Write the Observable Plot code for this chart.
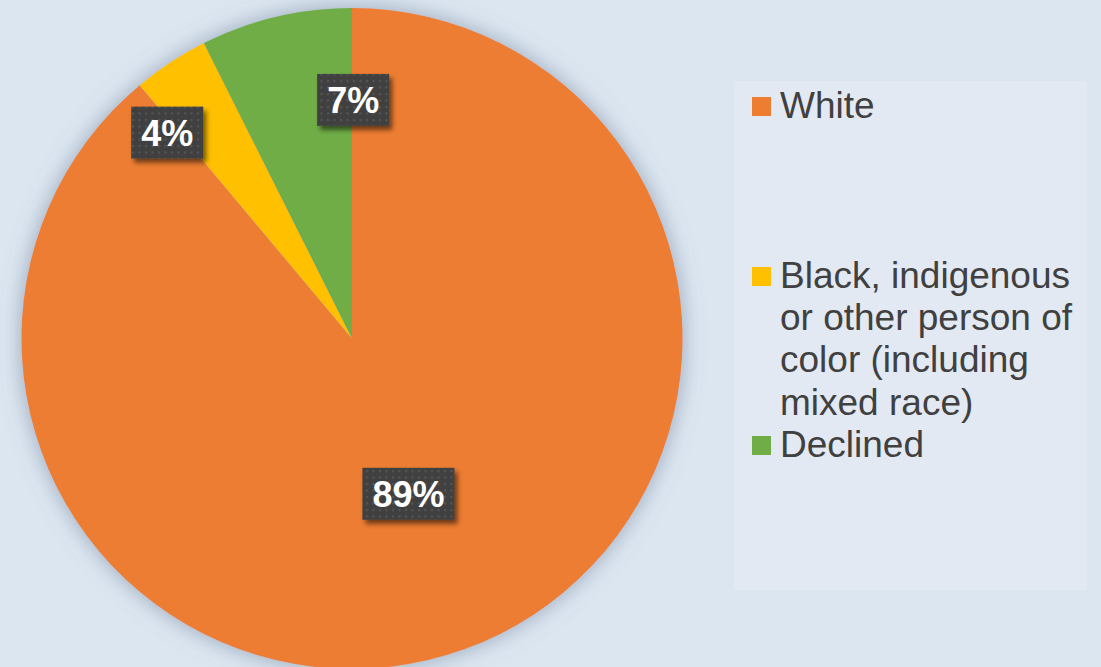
<!DOCTYPE html>
<html>
<head>
<meta charset="utf-8">
<script src="https://cdn.jsdelivr.net/npm/d3@7"></script>
<script src="https://cdn.jsdelivr.net/npm/@observablehq/plot@0.6"></script>
<style>
  html, body { margin: 0; padding: 0; background: #dce6f1; }
  #wrap { position: relative; width: 1101px; height: 667px; overflow: hidden; background: #dce6f1; font-family: "Liberation Sans", Arial, sans-serif; }
  #chart { position: absolute; left: 0; top: 0; }
  #legend { position: absolute; left: 734px; top: 81px; width: 353px; height: 509px; background: #e3e9f2; }
  .item { position: absolute; left: 18px; font-size: 37px; line-height: 42.4px; color: #404040; }
  .sw { position: absolute; left: 0; width: 19px; height: 19px; }
  .txt { position: absolute; left: 28px; white-space: nowrap; }
</style>
</head>
<body>
<div id="wrap">
  <div id="chart"></div>
  <div id="legend"></div>
</div>
<script>
// ---- data ----
const categories = ["White", "Black, indigenous or other person of color (including mixed race)", "Declined"];
const values = [88.9, 3.7, 7.4];
const labels = ["89%", "4%", "7%"];
const colors = ["#ED7D31", "#FFC000", "#70AD47"];
const legendLines = [["White"], ["Black, indigenous", "or other person of", "color (including", "mixed race)"], ["Declined"]];

// ---- layout options (not data) ----
const labelPlacement = [ {dAngle: 0, r: 0.5}, {dAngle: -8.6, r: 0.837}, {dAngle: 13.6, r: 0.722} ];
const legendRows = [0, 4, 8];

const slices = categories.map((c, i) => ({category: c, value: values[i], label: labels[i], color: colors[i]}));

const W = 1101, H = 667, R = 330.5, cx = 352, cy = 338.5;

function pieMark(index, scales, vals, dims) {
  const x0 = scales.x(0), y0 = scales.y(0), r = scales.x(1) - scales.x(0);
  const g = d3.create("svg:g");
  const defs = g.append("defs");
  const f = defs.append("filter").attr("id", "pieShadow").attr("x", "-20%").attr("y", "-20%").attr("width", "140%").attr("height", "140%");
  f.append("feDropShadow").attr("dx", 0).attr("dy", 0).attr("stdDeviation", 11).attr("flood-color", "#5f6f88").attr("flood-opacity", 0.55);
  const arcs = d3.pie().sort(null).value(d => d.value)(slices);
  const arc = d3.arc().innerRadius(0).outerRadius(r);
  const pg = g.append("g").attr("transform", `translate(${x0},${y0})`).attr("filter", "url(#pieShadow)");
  pg.selectAll("path").data(arcs).join("path").attr("d", arc).attr("fill", d => d.data.color);
  return g.node();
}

function labelMark(index, scales, vals, dims) {
  const x0 = scales.x(0), y0 = scales.y(0), r = scales.x(1) - scales.x(0);
  const g = d3.create("svg:g");
  const defs = g.append("defs");
  const p = defs.append("pattern").attr("id", "dots").attr("patternUnits", "userSpaceOnUse").attr("width", 6.5).attr("height", 6.5);
  p.append("rect").attr("width", 6.5).attr("height", 6.5).attr("fill", "#404040");
  p.append("rect").attr("x", 2).attr("y", 2).attr("width", 2).attr("height", 2).attr("fill", "#585858");
  const f = defs.append("filter").attr("id", "lblShadow").attr("x", "-30%").attr("y", "-30%").attr("width", "170%").attr("height", "170%");
  f.append("feDropShadow").attr("dx", 3).attr("dy", 4).attr("stdDeviation", 2.5).attr("flood-color", "#000").attr("flood-opacity", 0.55);
  const ctx = document.createElement("canvas").getContext("2d");
  const font = "bold 36px 'Liberation Sans', Arial, sans-serif";
  ctx.font = font;
  const arcs = d3.pie().sort(null).value(d => d.value)(slices);
  arcs.forEach((a, i) => {
    const ang = (a.startAngle + a.endAngle) / 2 + labelPlacement[i].dAngle * Math.PI / 180;
    const rr = r * labelPlacement[i].r;
    const lx = x0 + rr * Math.sin(ang), ly = y0 - rr * Math.cos(ang);
    const tw = ctx.measureText(a.data.label).width;
    const bw = tw + 20, bh = 52;
    g.append("rect").attr("x", lx - bw / 2).attr("y", ly - bh / 2).attr("width", bw).attr("height", bh)
      .attr("fill", "url(#dots)").attr("filter", "url(#lblShadow)");
    g.append("text").attr("x", lx).attr("y", ly + 13).attr("text-anchor", "middle")
      .attr("fill", "#ffffff").style("font", font).text(a.data.label);
  });
  return g.node();
}

const chart = Plot.plot({
  width: W, height: H, margin: 0,
  style: {background: "transparent"},
  x: {domain: [-cx / R, (W - cx) / R], axis: null},
  y: {domain: [-(H - cy) / R, cy / R], axis: null},
  marks: [pieMark, labelMark]
});
document.getElementById("chart").appendChild(chart);

// ---- legend ----
const legend = document.getElementById("legend");
const lineH = 42.4, firstBaseline = 116 - 81;
slices.forEach((s, i) => {
  const item = document.createElement("div");
  item.className = "item";
  const topLine = firstBaseline + legendRows[i] * lineH;
  item.style.top = (topLine - 31) + "px";
  const sw = document.createElement("div");
  sw.className = "sw";
  sw.style.background = s.color;
  sw.style.top = "12px";
  item.appendChild(sw);
  const t = document.createElement("div");
  t.className = "txt";
  t.innerHTML = legendLines[i].join("<br>");
  item.appendChild(t);
  legend.appendChild(item);
});
</script>
</body>
</html>
